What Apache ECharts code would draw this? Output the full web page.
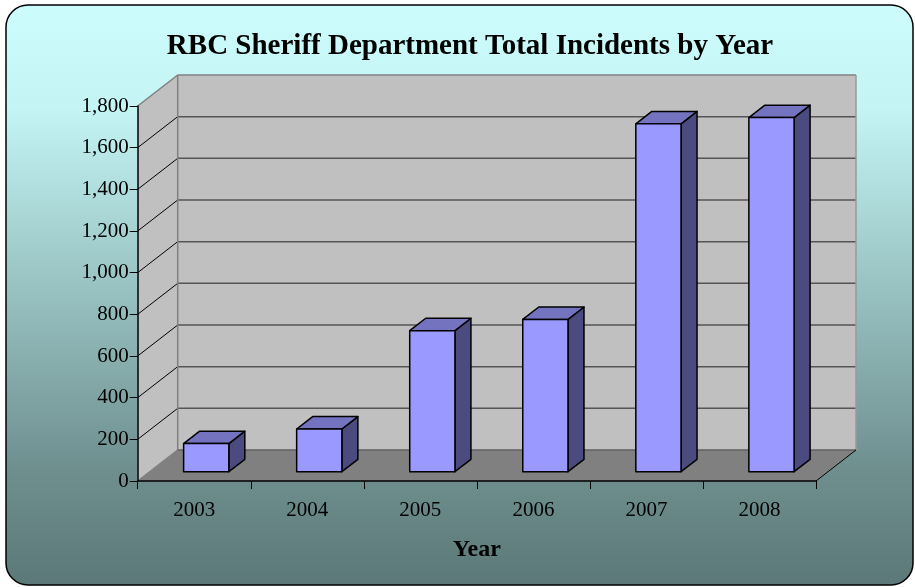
<!DOCTYPE html>
<html>
<head>
<meta charset="utf-8">
<script src="https://cdn.jsdelivr.net/npm/echarts@6/dist/echarts.min.js"></script>
<style>
  html, body { margin: 0; padding: 0; background: #ffffff; }
  #chart { width: 915px; height: 587px; }
</style>
</head>
<body>
<div id="chart"></div>
<script>
// Yearly incident totals
const years = ['2003', '2004', '2005', '2006', '2007', '2008'];
const incidents = [135, 205, 677, 731, 1670, 1700];

// Value axis range
const yMin = 0;
const yMax = 1800;
const yStep = 200;

// Oblique projection of the depth axis (pixels from front plane to back wall)
const DEPTH_X = 40;
const DEPTH_Y = -31;
// Column placement within the depth and the category band
const COL_FRONT = 0.3;
const COL_BACK = 0.7;
const COL_WIDTH = 0.4;

const FONT = '"Liberation Serif", "Times New Roman", serif';

const chart = echarts.init(document.getElementById('chart'), null, { renderer: 'canvas' });

// Back wall, side wall and floor of the 3-D plot area
function renderWalls(params, api) {
  const band = api.size([1, 0])[0];
  const xl = api.coord([0, yMin])[0] - band / 2;
  const xr = api.coord([years.length - 1, yMin])[0] + band / 2;
  const y0 = api.coord([0, yMin])[1];
  const yTop = api.coord([0, yMax])[1];
  const children = [];

  // side wall (left)
  children.push({
    type: 'polygon',
    shape: { points: [[xl, y0], [xl + DEPTH_X, y0 + DEPTH_Y], [xl + DEPTH_X, yTop + DEPTH_Y], [xl, yTop]] },
    style: { fill: '#c0c0c0', stroke: null }
  });
  // back wall
  children.push({
    type: 'rect',
    shape: { x: xl + DEPTH_X, y: yTop + DEPTH_Y, width: xr - xl, height: y0 - yTop },
    style: { fill: '#c0c0c0', stroke: null }
  });
  // floor
  children.push({
    type: 'polygon',
    shape: { points: [[xl, y0], [xr, y0], [xr + DEPTH_X, y0 + DEPTH_Y], [xl + DEPTH_X, y0 + DEPTH_Y]] },
    style: { fill: '#808080', stroke: null }
  });

  // gridlines across back wall and side wall
  for (let v = yMin + yStep; v < yMax; v += yStep) {
    const y = api.coord([0, v])[1];
    children.push({
      type: 'line',
      shape: { x1: xl + DEPTH_X, y1: y + DEPTH_Y, x2: xr + DEPTH_X, y2: y + DEPTH_Y },
      style: { stroke: '#555555', lineWidth: 1.5 }
    });
    children.push({
      type: 'line',
      shape: { x1: xl, y1: y, x2: xl + DEPTH_X, y2: y + DEPTH_Y },
      style: { stroke: '#000000', lineWidth: 1 }
    });
  }

  // wall edges
  const edge = { stroke: '#808080', lineWidth: 1.5 };
  children.push({ type: 'line', shape: { x1: xl, y1: yTop, x2: xl + DEPTH_X, y2: yTop + DEPTH_Y }, style: edge });
  children.push({ type: 'line', shape: { x1: xl + DEPTH_X, y1: yTop + DEPTH_Y, x2: xr + DEPTH_X, y2: yTop + DEPTH_Y }, style: edge });
  children.push({ type: 'line', shape: { x1: xl + DEPTH_X, y1: yTop + DEPTH_Y, x2: xl + DEPTH_X, y2: y0 + DEPTH_Y }, style: edge });
  children.push({ type: 'line', shape: { x1: xr + DEPTH_X, y1: yTop + DEPTH_Y, x2: xr + DEPTH_X, y2: y0 + DEPTH_Y }, style: { stroke: '#9a9a9a', lineWidth: 1.5 } });
  children.push({ type: 'line', shape: { x1: xl + DEPTH_X, y1: y0 + DEPTH_Y, x2: xr + DEPTH_X, y2: y0 + DEPTH_Y }, style: { stroke: '#606060', lineWidth: 1.5 } });
  children.push({ type: 'line', shape: { x1: xl, y1: y0, x2: xl + DEPTH_X, y2: y0 + DEPTH_Y }, style: edge });
  children.push({ type: 'line', shape: { x1: xr, y1: y0, x2: xr + DEPTH_X, y2: y0 + DEPTH_Y }, style: { stroke: '#000000', lineWidth: 1 } });

  return { type: 'group', children: children };
}

// 3-D column: front face, top face and right side face
function renderColumn(params, api) {
  const idx = api.value(0);
  const val = api.value(1);
  const band = api.size([1, 0])[0];
  const base = api.coord([idx, yMin]);
  const top = api.coord([idx, val]);
  const w = band * COL_WIDTH;
  const fx = base[0] - w / 2 + COL_FRONT * DEPTH_X;
  const fyB = base[1] + COL_FRONT * DEPTH_Y;
  const fyT = top[1] + COL_FRONT * DEPTH_Y;
  const dx = (COL_BACK - COL_FRONT) * DEPTH_X;
  const dy = (COL_BACK - COL_FRONT) * DEPTH_Y;
  const outline = { stroke: '#000000', lineWidth: 1.5, lineJoin: 'round' };
  return {
    type: 'group',
    children: [
      {
        type: 'polygon',
        shape: { points: [[fx + w, fyT], [fx + w + dx, fyT + dy], [fx + w + dx, fyB + dy], [fx + w, fyB]] },
        style: Object.assign({ fill: '#4b4b80' }, outline)
      },
      {
        type: 'polygon',
        shape: { points: [[fx, fyT], [fx + dx, fyT + dy], [fx + w + dx, fyT + dy], [fx + w, fyT]] },
        style: Object.assign({ fill: '#7373bf' }, outline)
      },
      {
        type: 'rect',
        shape: { x: fx, y: fyT, width: w, height: fyB - fyT },
        style: Object.assign({ fill: '#9999ff' }, outline)
      }
    ]
  };
}

const option = {
  animation: false,
  backgroundColor: 'transparent',
  graphic: [
    {
      type: 'rect',
      z: -100,
      shape: { x: 6, y: 5, width: 907, height: 580, r: 22 },
      style: {
        fill: new echarts.graphic.LinearGradient(0, 0, 0, 1, [
          { offset: 0, color: '#ccfcfc' },
          { offset: 0.18, color: '#c4f4f4' },
          { offset: 0.5, color: '#97c0c0' },
          { offset: 0.8, color: '#6f8f8f' },
          { offset: 1, color: '#5c7878' }
        ]),
        stroke: '#000000',
        lineWidth: 1.5
      }
    }
  ],
  title: {
    text: 'RBC Sheriff Department Total Incidents by Year',
    left: 465,
    textAlign: 'center',
    top: 27,
    textStyle: { fontFamily: FONT, fontWeight: 'bold', fontSize: 29, color: '#000000' }
  },
  grid: { left: 137.7, right: 99, top: 106, bottom: 106, containLabel: false },
  xAxis: {
    type: 'category',
    data: years,
    boundaryGap: true,
    name: 'Year',
    nameLocation: 'middle',
    nameGap: 57,
    nameTextStyle: { fontFamily: FONT, fontWeight: 'bold', fontSize: 24, color: '#000000' },
    axisLine: { show: true, lineStyle: { color: '#000000', width: 1.5 } },
    axisTick: { show: true, length: 8, lineStyle: { color: '#000000', width: 1 } },
    axisLabel: { fontFamily: FONT, fontSize: 21, color: '#000000', margin: 19 },
    splitLine: { show: false },
    z: 10
  },
  yAxis: {
    type: 'value',
    min: yMin,
    max: yMax,
    interval: yStep,
    axisLine: { show: true, lineStyle: { color: '#000000', width: 1.5 } },
    axisTick: { show: true, length: 8, lineStyle: { color: '#000000', width: 1 } },
    axisLabel: {
      fontFamily: FONT, fontSize: 21, color: '#000000', margin: 9,
      formatter: function (v) { return v.toLocaleString('en-US'); }
    },
    splitLine: { show: false },
    z: 10
  },
  series: [
    {
      type: 'custom',
      name: 'walls',
      renderItem: renderWalls,
      data: [[0, yMin]],
      encode: { x: 0, y: 1 },
      z: 1,
      silent: true
    },
    {
      type: 'custom',
      name: 'Incidents',
      renderItem: renderColumn,
      data: incidents.map(function (v, i) { return [i, v]; }),
      encode: { x: 0, y: 1 },
      z: 2
    }
  ]
};

chart.setOption(option);
</script>
</body>
</html>
